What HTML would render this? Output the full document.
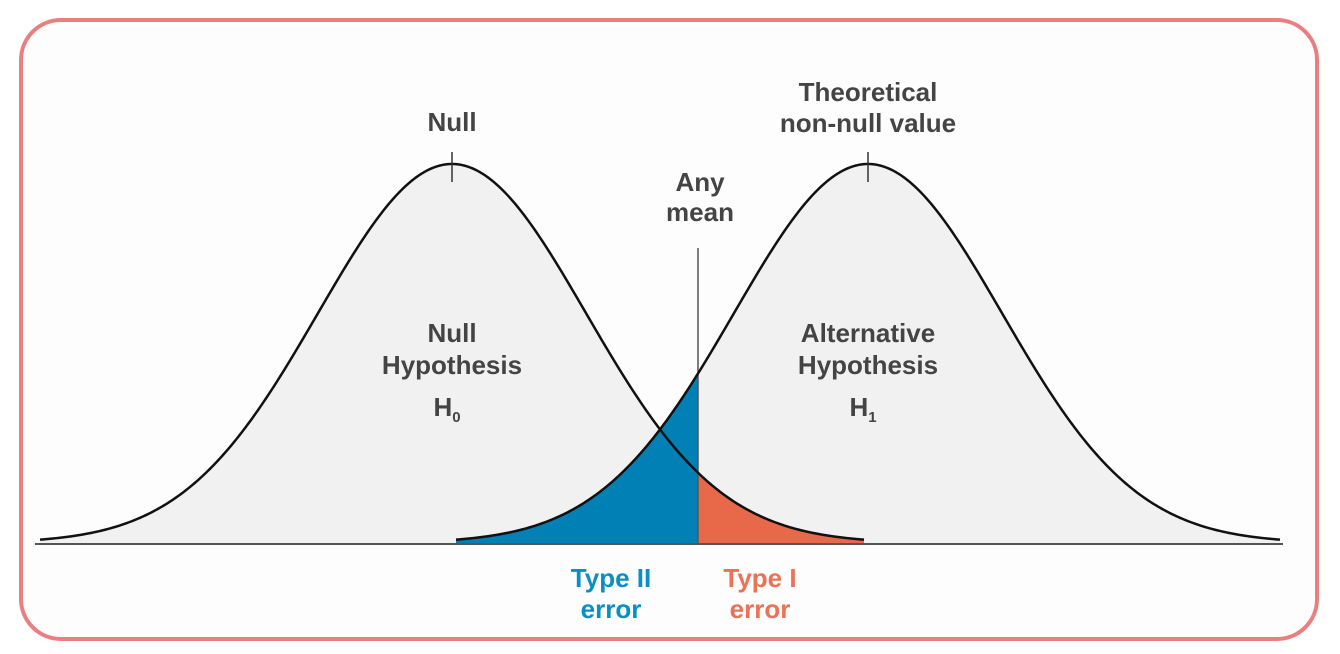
<!DOCTYPE html>
<html><head><meta charset="utf-8"><style>
html,body{margin:0;padding:0;background:#fff;}
svg{display:block}
text{font-family:"Liberation Sans",sans-serif;font-weight:bold;text-anchor:middle;}
</style></head><body>
<svg id="s" width="1340" height="654" viewBox="0 0 1340 654" xmlns="http://www.w3.org/2000/svg">
<rect x="21" y="20" width="1296" height="619" rx="40" fill="#fdfdfd" stroke="#ea7f80" stroke-width="4"/>
<path id="g1" fill="#f1f1f1"/>
<path id="g2" fill="#f1f1f1"/>
<path id="w" fill="#fcfcfc"/>
<path id="b" fill="#0080b4"/>
<path id="r" fill="#e8694a"/>
<line x1="698" y1="248" x2="698" y2="543" stroke="#555" stroke-width="1.5"/>
<path id="c1" fill="none" stroke="#111" stroke-width="2.5"/>
<path id="c2" fill="none" stroke="#111" stroke-width="2.5"/>
<line x1="35" y1="544" x2="1283" y2="544" stroke="#555" stroke-width="2"/>
<line x1="452" y1="152" x2="452" y2="182" stroke="#333" stroke-width="1.5"/>
<line x1="868" y1="152" x2="868" y2="182" stroke="#333" stroke-width="1.5"/>
<g fill="#444" font-size="26">
<text x="452" y="131">Null</text>
<text x="868" y="101">Theoretical</text>
<text x="868" y="132">non-null value</text>
<text x="700" y="191">Any</text>
<text x="700" y="221">mean</text>
<text x="452" y="342">Null</text>
<text x="452" y="374">Hypothesis</text>
<text x="447" y="416">H<tspan font-size="15" dy="6">0</tspan></text>
<text x="868" y="342">Alternative</text>
<text x="868" y="374">Hypothesis</text>
<text x="863" y="416">H<tspan font-size="15" dy="6">1</tspan></text>
</g>
<g font-size="26">
<text x="611" y="587" fill="#0a8fc4">Type II</text>
<text x="611" y="618" fill="#0a8fc4">error</text>
<text x="760" y="587" fill="#ea7256">Type I</text>
<text x="760" y="618" fill="#ea7256">error</text>
</g>
</svg>
<script>
var B=543,H=379,S=134;
function f(m,x){return B-H*Math.exp(-(x-m)*(x-m)/(2*S*S));}
function pts(fn,a,z){var p=[];for(var x=a;x<=z;x+=2)p.push(x.toFixed(1)+","+fn(x).toFixed(2));p.push(z+","+fn(z).toFixed(2));return p;}
function area(fn,a,z){return "M"+a+","+B+" L"+pts(fn,a,z).join(" L")+" L"+z+","+B+" Z";}
function line(fn,a,z){return "M"+pts(fn,a,z).join(" L");}
var n=function(x){return f(452,x)},al=function(x){return f(868,x)};
var mn=function(x){return Math.max(n(x),al(x));};
document.getElementById('g1').setAttribute('d',area(n,40,864));
document.getElementById('g2').setAttribute('d',area(al,456,1280));
document.getElementById('w').setAttribute('d',area(mn,456,864));
document.getElementById('b').setAttribute('d',area(al,456,698));
document.getElementById('r').setAttribute('d',area(n,698,864));
document.getElementById('c1').setAttribute('d',line(n,40,864));
document.getElementById('c2').setAttribute('d',line(al,456,1280));
</script>
</body></html>
